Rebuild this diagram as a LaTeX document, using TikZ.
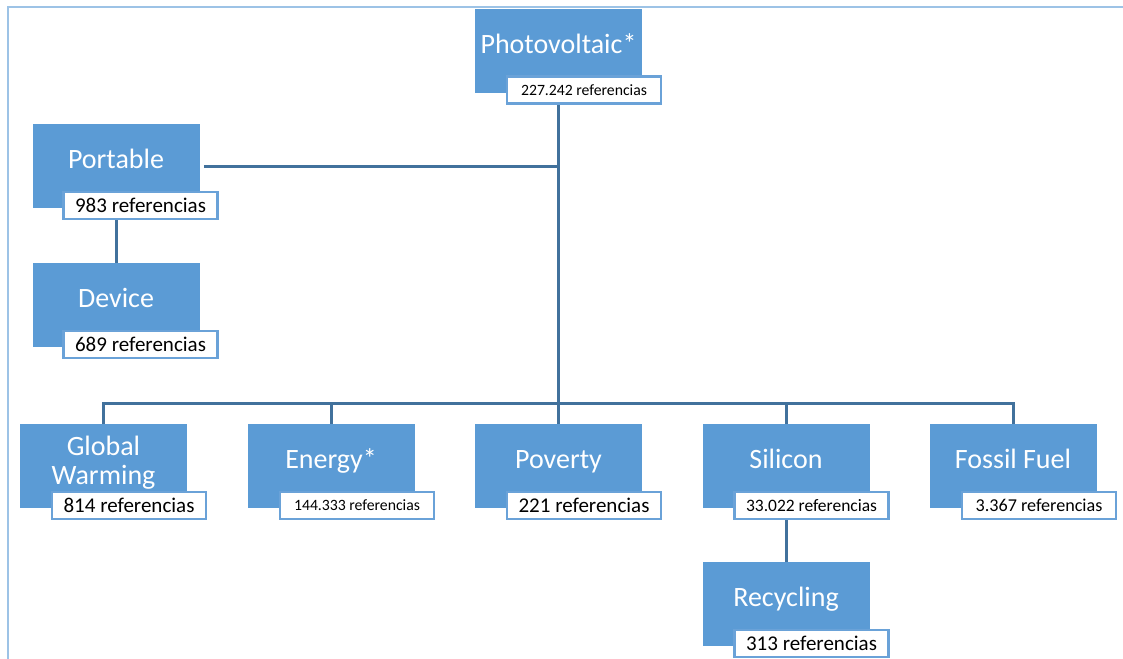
\documentclass[tikz,border=0pt]{standalone}
\usepackage{fontspec}
\setmainfont{Carlito}
\usetikzlibrary{backgrounds}
\definecolor{boxblue}{HTML}{5B9BD5}
\definecolor{lineblue}{HTML}{41719C}
\definecolor{lblborder}{HTML}{6AA2D8}
\definecolor{framecol}{HTML}{9DC3E6}
\tikzset{
  x=0.75pt, y=-0.75pt,
  bluebox/.style={fill=boxblue, draw=none, minimum width=125.25pt, minimum height=63pt, inner sep=0pt},
  titletext/.style={text=white, font=\fontsize{21}{22}\selectfont, align=center, inner sep=0pt, anchor=base},
  lblbox/.style={fill=white, draw=lblborder, line width=1.6pt, minimum width=115.5pt, minimum height=20.25pt, inner sep=0pt, text=black},
  conn/.style={draw=lineblue, line width=2.25pt},
  frameline/.style={draw=framecol, line width=1.5pt}
}
\newcommand{\lf}[1]{\fontsize{#1}{#1}\selectfont}
\begin{document}
\begin{tikzpicture}
\useasboundingbox (0,0) rectangle (1123,659);
\coordinate (fa) at (8,659);
\coordinate (fb) at (8,7);
\coordinate (fc) at (1123,7);
\draw[frameline] (fa) -- (fb) -- (fc);

% boxes
\node[bluebox] (pv) at (558.5,51) {};
\node[titletext] (pvt) at (558.5,53.5) {Photovoltaic*};
\node[lblbox, font=\lf{11.8}] (pvl) at (584,90) {227.242 referencias};

\node[bluebox] (por) at (116,166) {};
\node[titletext] (port) at (116,168.5) {Portable};
\node[lblbox, font=\lf{15.75}] (porl) at (140.5,205.5) {983 referencias};

\node[bluebox] (dev) at (116,305) {};
\node[titletext] (devt) at (116,307.5) {Device};
\node[lblbox, font=\lf{15.75}] (devl) at (140.5,344.5) {689 referencias};

\node[bluebox] (gw) at (103.5,466) {};
\node[titletext, anchor=center] (gwt) at (103.5,463) {Global\\Warming};
\node[lblbox, font=\lf{15.75}] (gwl) at (129,505.5) {814 referencias};

\node[bluebox] (en) at (331,466) {};
\node[titletext] (ent) at (331,468.5) {Energy*};
\node[lblbox, font=\lf{11.8}] (enl) at (357,505.5) {144.333 referencias};

\node[bluebox] (pov) at (558.5,466) {};
\node[titletext] (povt) at (558.5,468.5) {Poverty};
\node[lblbox, font=\lf{15.75}] (povl) at (584,505.5) {221 referencias};

\node[bluebox] (si) at (786,466) {};
\node[titletext] (sit) at (786,468.5) {Silicon};
\node[lblbox, font=\lf{13.1}] (sil) at (811.5,505.5) {33.022 referencias};

\node[bluebox] (ff) at (1013,466) {};
\node[titletext] (fft) at (1013,468.5) {Fossil Fuel};
\node[lblbox, font=\lf{13.6}] (ffl) at (1039,505.5) {3.367 referencias};

\node[bluebox] (rec) at (786,604) {};
\node[titletext] (rect) at (786,606.5) {Recycling};
\node[lblbox, font=\lf{15.75}] (recl) at (811.5,643.5) {313 referencias};

\coordinate (bus) at (558.5,403);
\coordinate (pj) at (558.5,167);

\begin{scope}[on background layer]
\draw[conn] (pv.south) -- (bus);
\draw[conn, shorten <=3pt] (por.east |- pj) -- (pj);
\draw[conn] (por.south) -- (dev.north);
\draw[conn] (gw.north) |- (ff.north |- bus) -- (ff.north);
\draw[conn] (en.north) -- (en.north |- bus);
\draw[conn] (pov.north) -- (pov.north |- bus);
\draw[conn] (si.north) -- (si.north |- bus);
\draw[conn] (si.south) -- (rec.north);
\end{scope}
\end{tikzpicture}
\end{document}
